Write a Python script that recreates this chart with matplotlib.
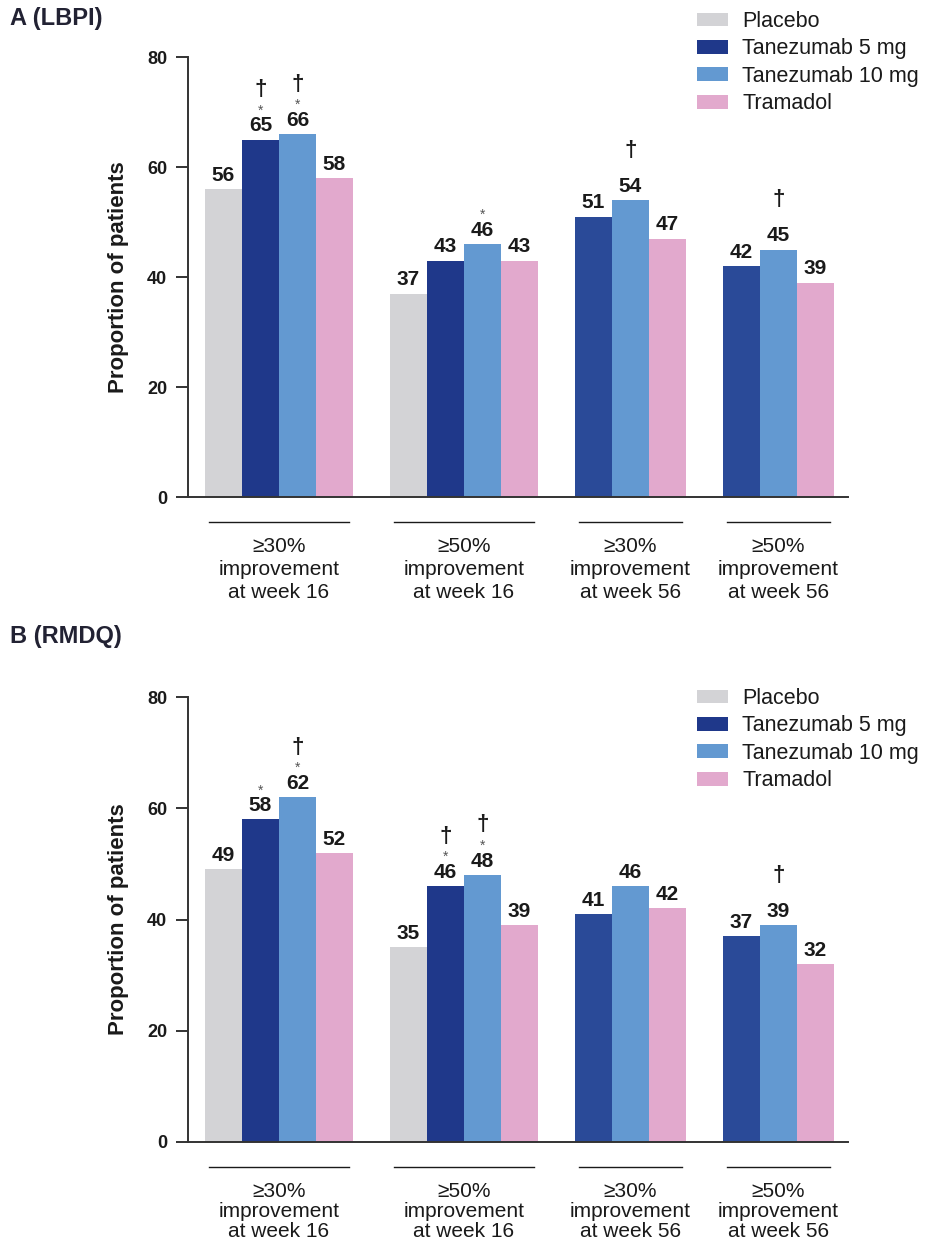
import matplotlib
matplotlib.use("Agg")
import matplotlib.pyplot as plt
from matplotlib.patches import Patch

plt.rcParams['font.family'] = ['Liberation Sans', 'DejaVu Sans']

# ---- data ----
groups = ["\u226530%\nimprovement\nat week 16", "\u226550%\nimprovement\nat week 16",
          "\u226530%\nimprovement\nat week 56", "\u226550%\nimprovement\nat week 56"]
treatments = ["Placebo", "Tanezumab 5 mg", "Tanezumab 10 mg", "Tramadol"]
colors = ["#d3d3d6", "#1f388a", "#6399d1", "#e2a9cd"]
tan5_week56_color = "#2a4a98"   # slightly lighter navy in the week-56 groups

# panel A (LBPI); None = no bar in that group
lbpi_placebo = [56, 37, None, None]
lbpi_tan5 = [65, 43, 51, 42]
lbpi_tan10 = [66, 46, 54, 45]
lbpi_tramadol = [58, 43, 47, 39]
lbpi_marks_tan5 = ["*\u2020", "", "", ""]
lbpi_marks_tan10 = ["*\u2020", "*", "\u2020", "\u2020"]

# panel B (RMDQ)
rmdq_placebo = [49, 35, None, None]
rmdq_tan5 = [58, 46, 41, 37]
rmdq_tan10 = [62, 48, 46, 39]
rmdq_tramadol = [52, 39, 42, 32]
rmdq_marks_tan5 = ["*", "*\u2020", "", ""]
rmdq_marks_tan10 = ["*\u2020", "*\u2020", "", "\u2020"]

panels = [
    ("A (LBPI)", [lbpi_placebo, lbpi_tan5, lbpi_tan10, lbpi_tramadol],
     [None, lbpi_marks_tan5, lbpi_marks_tan10, None]),
    ("B (RMDQ)", [rmdq_placebo, rmdq_tan5, rmdq_tan10, rmdq_tramadol],
     [None, rmdq_marks_tan5, rmdq_marks_tan10, None]),
]

W, H = 932, 1242
fig = plt.figure(figsize=(W / 100, H / 100), dpi=100)

# axes boxes in pixels: (left, top, right, bottom)
boxes = [(188, 57, 848, 497), (188, 697, 848, 1142)]
title_y = [18, 636]
legend_top = [11, 688]
cat_linespacing = [1.28, 1.08]   # bottom panel labels sit tight against the page edge
ink = "#1a1a1a"

for (title, series, marks), box, ty, ltop, ls in zip(panels, boxes, title_y, legend_top,
                                                     cat_linespacing):
    l, t, r, b = box
    ax = fig.add_axes([l / W, 1 - b / H, (r - l) / W, (b - t) / H])
    ph = b - t

    # slot positions: bars of a group side by side, one empty slot between groups
    start = 0
    for g in range(len(groups)):
        present = [s for s in range(len(series)) if series[s][g] is not None]
        for k, s in enumerate(present):
            x = start + k
            v = series[s][g]
            c = colors[s]
            if s == 1 and g >= 2:
                c = tan5_week56_color
            ax.bar(x, v, width=1.0, align="edge", color=c, linewidth=0)
            ax.annotate(str(v), (x + 0.5, v), xytext=(0, 3), textcoords="offset points",
                        ha="center", va="bottom", fontsize=15, fontweight="bold", color=ink)
            m = marks[s][g] if marks[s] is not None else ""
            if "*" in m:
                ax.annotate("*", (x + 0.5, v), xytext=(0, 18), textcoords="offset points",
                            ha="center", va="baseline", fontsize=10, color="#555555")
            if "\u2020" in m:
                ax.annotate("\u2020", (x + 0.5, v), xytext=(0, 36), textcoords="offset points",
                            ha="center", va="center", fontsize=16, fontweight="bold", color=ink)
        # category bracket + label below the axis
        x0, x1 = start, start + len(present)
        ax.plot([x0 + 0.1, x1 - 0.1], [-25 / ph, -25 / ph], color=ink, lw=1.0,
                transform=ax.get_xaxis_transform(), clip_on=False)
        ax.text((x0 + x1) / 2, -40 / ph, groups[g], transform=ax.get_xaxis_transform(),
                ha="center", va="top", fontsize=15, color=ink, linespacing=ls)
        start += len(present) + 1

    ax.set_xlim(-0.46, 17.38)
    ax.set_ylim(0, 80)
    ax.set_yticks([0, 20, 40, 60, 80])
    ax.set_xticks([])
    for side in ("top", "right"):
        ax.spines[side].set_visible(False)
    for side in ("left", "bottom"):
        ax.spines[side].set_linewidth(1.4)
        ax.spines[side].set_color("#333333")
    ax.tick_params(axis="y", length=9, width=1.4, color="#333333", pad=6,
                   labelsize=13, labelcolor=ink)
    for lab in ax.get_yticklabels():
        lab.set_fontweight("bold")
    ax.set_ylabel("Proportion of patients", fontsize=16, fontweight="bold", color=ink)
    ax.yaxis.set_label_coords((129 - l) / (r - l), 0.5)

    fig.text(10 / W, 1 - ty / H, title, fontsize=17, fontweight="bold",
             color="#222233", va="center", ha="left")

    handles = [Patch(facecolor=c, edgecolor="none") for c in colors]
    fig.legend(handles, treatments, loc="upper left", bbox_to_anchor=(697 / W, 1 - ltop / H),
               frameon=False, fontsize=15.5, handlelength=1.45, handleheight=0.6,
               handletextpad=0.65, labelspacing=0.3, borderpad=0, borderaxespad=0,
               labelcolor=ink)

fig.savefig("out.png", dpi=100)
